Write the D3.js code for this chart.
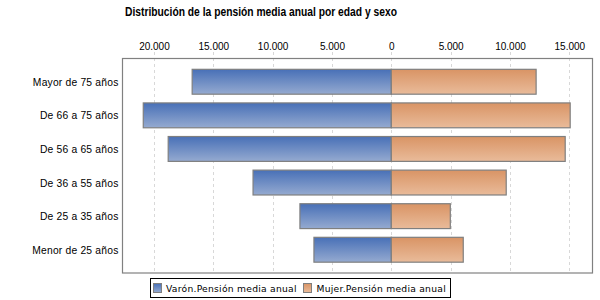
<!DOCTYPE html>
<html><head><meta charset="utf-8">
<script src="https://cdn.jsdelivr.net/npm/d3@7"></script>
<style>body{margin:0;background:#fff}svg{display:block}</style>
</head><body>
<svg id="c" width="600" height="300"></svg>
<script>
const categories = ["Mayor de 75 años","De 66 a 75 años","De 56 a 65 años","De 36 a 55 años","De 25 a 35 años","Menor de 25 años"];
const varon = [16780, 20900, 18800, 11650, 7700, 6520];
const mujer = [12200, 15070, 14650, 9680, 4970, 6060];
const tickValues = [-20000,-15000,-10000,-5000,0,5000,10000,15000];
const seriesNames = ["Varón.Pensión media anual","Mujer.Pensión media anual"];
const title = "Distribución de la pensión media anual por edad y sexo";

const svg = d3.select("#c");
const L = 122.5, R = 592.5, T = 58.5, B = 273;
const x = d3.scaleLinear().domain([-22650, 16950]).range([L, R]);
const y = d3.scaleBand().domain(categories).range([T, B]).paddingInner(0.26).paddingOuter(0.322);
const loc = d3.formatLocale({decimal:",", thousands:".", grouping:[3], currency:["","€"]});
const fmt = loc.format(",.0f");

const defs = svg.append("defs");
function grad(id, c1, c2){
  const g = defs.append("linearGradient").attr("id", id).attr("x1",0).attr("y1",0).attr("x2",0).attr("y2",1);
  g.append("stop").attr("offset","0%").attr("stop-color",c1);
  g.append("stop").attr("offset","100%").attr("stop-color",c2);
}
grad("gb", "#4870b7", "#95aad0");
grad("go", "#d99465", "#e9bb9a");

// title
svg.append("text").attr("x", 125).attr("y", 15.5).attr("text-anchor","start")
  .attr("textLength", 272).attr("lengthAdjust","spacingAndGlyphs")
  .style("font-family","'Liberation Sans',Arial,sans-serif")
  .style("font-weight","bold").style("font-size","13.2px").attr("fill","#000").text(title);

// grid
svg.append("g").selectAll("line").data(tickValues).join("line")
  .attr("x1", d=>x(d)+0.5).attr("x2", d=>x(d)+0.5).attr("y1", 52).attr("y2", B)
  .attr("stroke","#d8d8d8").attr("stroke-dasharray","3,3").attr("shape-rendering","crispEdges");

// top axis labels
const ax = svg.append("g").attr("transform",`translate(0,${T})`)
  .call(d3.axisTop(x).tickValues(tickValues).tickSize(0).tickPadding(9).tickFormat(d=>fmt(Math.abs(d))));
ax.select(".domain").remove();
ax.selectAll("text").style("font-family","'Liberation Sans',Arial,sans-serif").style("font-size","10px").attr("fill","#000");

// frame
svg.append("rect").attr("x", L).attr("y", T).attr("width", R-L).attr("height", B-T)
  .attr("fill","none").attr("stroke","#808080").attr("stroke-width",1.2);

// bars
const g = svg.append("g");
g.selectAll("rect.v").data(categories).join("rect").attr("class","v")
  .attr("x", (d,i)=>x(-varon[i])).attr("width",(d,i)=>x(0)-x(-varon[i]))
  .attr("y", d=>y(d)).attr("height", y.bandwidth())
  .attr("fill","url(#gb)").attr("stroke","#7f7f7f").attr("stroke-width",1.2);
g.selectAll("rect.m").data(categories).join("rect").attr("class","m")
  .attr("x", x(0)).attr("width",(d,i)=>x(mujer[i])-x(0))
  .attr("y", d=>y(d)).attr("height", y.bandwidth())
  .attr("fill","url(#go)").attr("stroke","#7f7f7f").attr("stroke-width",1.2);

// category labels
svg.append("g").selectAll("text").data(categories).join("text")
  .attr("x", 118.5).attr("y", d=>y(d)+y.bandwidth()/2+4)
  .attr("text-anchor","end")
  .style("font-family","'Liberation Sans',Arial,sans-serif").style("font-size","10.3px")
  .style("letter-spacing","0.2px").attr("fill","#000").text(d=>d);

// legend
const lg = svg.append("g");
lg.append("rect").attr("x",150.5).attr("y",278.5).attr("width",300).attr("height",19)
  .attr("fill","#fff").attr("stroke","#000").attr("stroke-width",1);
const items = [{n:seriesNames[0], f:"url(#gb)", sx:153, tx:166},{n:seriesNames[1], f:"url(#go)", sx:303, tx:316.5}];
items.forEach(it=>{
  lg.append("rect").attr("x",it.sx+0.5).attr("y",283.5).attr("width",8).attr("height",9)
    .attr("fill",it.f).attr("stroke","#7f7f7f");
  lg.append("text").attr("x",it.tx).attr("y",292)
    .style("font-family","'DejaVu Sans',Verdana,sans-serif").style("font-size","9.2px")
    .style("letter-spacing","0.25px").attr("fill","#000").text(it.n);
});
</script>
</body></html>
